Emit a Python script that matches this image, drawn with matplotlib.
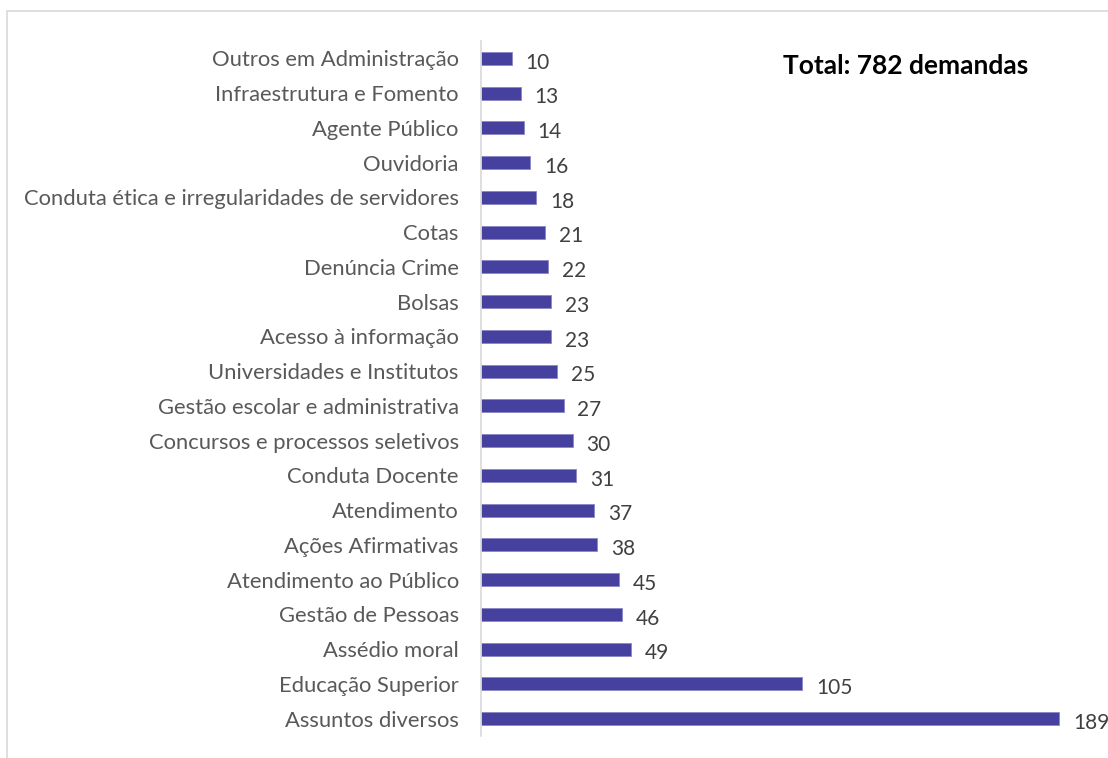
import matplotlib.pyplot as plt
from matplotlib.patches import Rectangle

categorias = ["Outros em Administração", "Infraestrutura e Fomento", "Agente Público",
              "Ouvidoria", "Conduta ética e irregularidades de servidores", "Cotas",
              "Denúncia Crime", "Bolsas", "Acesso à informação", "Universidades e Institutos",
              "Gestão escolar e administrativa", "Concursos e processos seletivos",
              "Conduta Docente", "Atendimento", "Ações Afirmativas", "Atendimento ao Público",
              "Gestão de Pessoas", "Assédio moral", "Educação Superior", "Assuntos diversos"]
valores = [10, 13, 14, 16, 18, 21, 22, 23, 23, 25, 27, 30, 31, 37, 38, 45, 46, 49, 105, 189]
titulo = "Total: 782 demandas"

plt.rcParams['font.family'] = ['Lato', 'DejaVu Sans']

fig = plt.figure(figsize=(11.08, 7.58), dpi=100)
# borda do gráfico
fig.patches.append(Rectangle((7/1108, -0.05), 1.2, 1 - 11/758 + 0.05, transform=fig.transFigure,
                             fill=False, edgecolor='#d9d9d9', linewidth=1.2))

ax = fig.add_axes([481/1108, 1 - 736/758, 611.6/1108, 695/758])
pos = range(len(categorias))
ax.barh(pos, valores, height=0.38, color='#46419f', edgecolor='#8a86c8', linewidth=0.6)
ax.set_ylim(len(categorias) - 0.5, -0.5)
ax.set_xlim(0, 200)
ax.set_yticks(list(pos))
ax.set_yticklabels(categorias, fontsize=15.8, color='#595959')
ax.set_xticks([])
ax.tick_params(axis='y', length=0, pad=16)
for s in ['top', 'right', 'bottom']:
    ax.spines[s].set_visible(False)
ax.spines['left'].set_color('#d9d9d9')
ax.spines['left'].set_linewidth(1.2)

for i, v in enumerate(valores):
    ax.annotate(str(v), (v, i), xytext=(10, -3), textcoords='offset points',
                va='center', ha='left', fontsize=15, color='#404040')

fig.text(783/1108, 1 - 66/758, titulo, fontsize=19, fontweight='bold', color='black',
         va='center', ha='left')

fig.savefig('out.png', dpi=100)
